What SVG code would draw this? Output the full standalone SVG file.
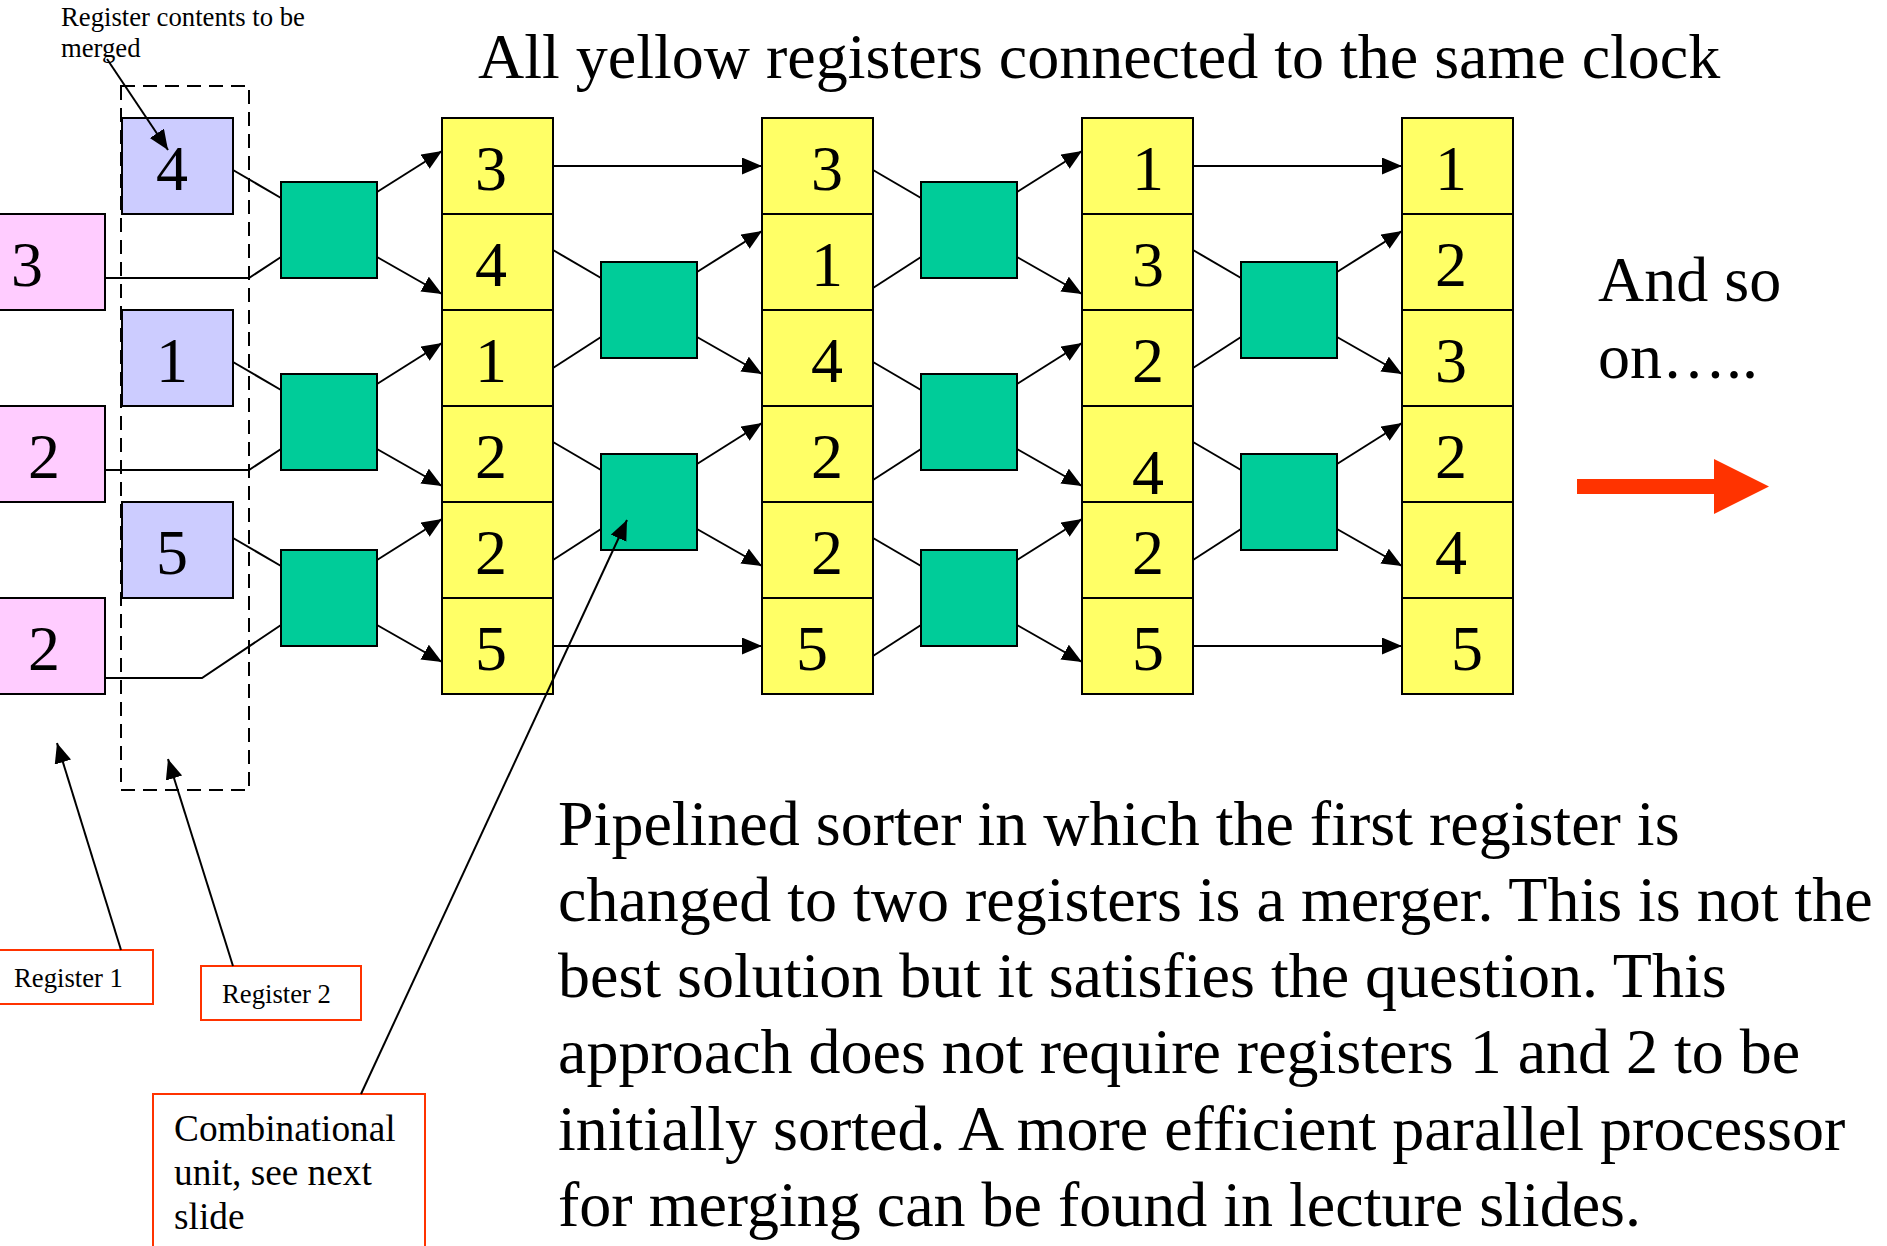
<svg xmlns="http://www.w3.org/2000/svg" width="1887" height="1246" viewBox="0 0 1887 1246">
<style>
text{font-family:"Liberation Serif","Times New Roman",serif;fill:#000}
.big{font-size:64px}
.dig{font-size:64px;text-anchor:middle}
.small{font-size:26.7px}
.mid{font-size:37.3px}
.yel{fill:#FFFF66;stroke:#000;stroke-width:2}
.grn{fill:#00CC99;stroke:#000;stroke-width:2}
.blu{fill:#CCCCFF;stroke:#000;stroke-width:2}
.pnk{fill:#FFCCFF;stroke:#000;stroke-width:2}
.call{fill:#fff;stroke:#FF3300;stroke-width:2}
.w{fill:none;stroke:#000;stroke-width:2}
.a{fill:none;stroke:#000;stroke-width:2;marker-end:url(#ah)}
</style>
<defs>
<marker id="ah" markerUnits="userSpaceOnUse" markerWidth="22" markerHeight="18" refX="20" refY="8.5" orient="auto">
<path d="M0,0 L20,8.5 L0,17 z" fill="#000"/>
</marker>
</defs>
<rect width="1887" height="1246" fill="#fff"/>

<text class="big" x="478" y="78">All yellow registers connected to the same clock</text>

<rect id="merge-group" x="121" y="86" width="128" height="704" fill="none" stroke="#000" stroke-width="2" stroke-dasharray="14 8"/>

<g id="reg2-a"><rect class="blu" x="122" y="118" width="111" height="96"/><text class="dig" x="172" y="190">4</text></g>
<g id="reg2-b"><rect class="blu" x="122" y="310" width="111" height="96"/><text class="dig" x="172" y="382">1</text></g>
<g id="reg2-c"><rect class="blu" x="122" y="502" width="111" height="96"/><text class="dig" x="172" y="574">5</text></g>

<g id="reg1-a"><rect class="pnk" x="-2" y="214" width="107" height="96"/><text class="dig" x="27" y="286">3</text></g>
<g id="reg1-b"><rect class="pnk" x="-2" y="406" width="107" height="96"/><text class="dig" x="44" y="478">2</text></g>
<g id="reg1-c"><rect class="pnk" x="-2" y="598" width="107" height="96"/><text class="dig" x="44" y="670">2</text></g>

<g id="comb-1a"><rect class="grn" x="281" y="182" width="96" height="96"/></g>
<g id="comb-1b"><rect class="grn" x="281" y="374" width="96" height="96"/></g>
<g id="comb-1c"><rect class="grn" x="281" y="550" width="96" height="96"/></g>
<g id="comb-2a"><rect class="grn" x="601" y="262" width="96" height="96"/></g>
<g id="comb-2b"><rect class="grn" x="601" y="454" width="96" height="96"/></g>
<g id="comb-3a"><rect class="grn" x="921" y="182" width="96" height="96"/></g>
<g id="comb-3b"><rect class="grn" x="921" y="374" width="96" height="96"/></g>
<g id="comb-3c"><rect class="grn" x="921" y="550" width="96" height="96"/></g>
<g id="comb-4a"><rect class="grn" x="1241" y="262" width="96" height="96"/></g>
<g id="comb-4b"><rect class="grn" x="1241" y="454" width="96" height="96"/></g>

<g id="yellow-1">
<rect class="yel" x="442" y="118" width="111" height="96"/>
<rect class="yel" x="442" y="214" width="111" height="96"/>
<rect class="yel" x="442" y="310" width="111" height="96"/>
<rect class="yel" x="442" y="406" width="111" height="96"/>
<rect class="yel" x="442" y="502" width="111" height="96"/>
<rect class="yel" x="442" y="598" width="111" height="96"/>
<text class="dig" x="491" y="190">3</text>
<text class="dig" x="491" y="286">4</text>
<text class="dig" x="491" y="382">1</text>
<text class="dig" x="491" y="478">2</text>
<text class="dig" x="491" y="574">2</text>
<text class="dig" x="491" y="670">5</text>
</g>
<g id="yellow-2">
<rect class="yel" x="762" y="118" width="111" height="96"/>
<rect class="yel" x="762" y="214" width="111" height="96"/>
<rect class="yel" x="762" y="310" width="111" height="96"/>
<rect class="yel" x="762" y="406" width="111" height="96"/>
<rect class="yel" x="762" y="502" width="111" height="96"/>
<rect class="yel" x="762" y="598" width="111" height="96"/>
<text class="dig" x="827" y="190">3</text>
<text class="dig" x="827" y="286">1</text>
<text class="dig" x="827" y="382">4</text>
<text class="dig" x="827" y="478">2</text>
<text class="dig" x="827" y="574">2</text>
<text class="dig" x="812" y="670">5</text>
</g>
<g id="yellow-3">
<rect class="yel" x="1082" y="118" width="111" height="96"/>
<rect class="yel" x="1082" y="214" width="111" height="96"/>
<rect class="yel" x="1082" y="310" width="111" height="96"/>
<rect class="yel" x="1082" y="406" width="111" height="96"/>
<rect class="yel" x="1082" y="502" width="111" height="96"/>
<rect class="yel" x="1082" y="598" width="111" height="96"/>
<text class="dig" x="1148" y="190">1</text>
<text class="dig" x="1148" y="286">3</text>
<text class="dig" x="1148" y="382">2</text>
<text class="dig" x="1148" y="494">4</text>
<text class="dig" x="1148" y="574">2</text>
<text class="dig" x="1148" y="670">5</text>
</g>
<g id="yellow-4">
<rect class="yel" x="1402" y="118" width="111" height="96"/>
<rect class="yel" x="1402" y="214" width="111" height="96"/>
<rect class="yel" x="1402" y="310" width="111" height="96"/>
<rect class="yel" x="1402" y="406" width="111" height="96"/>
<rect class="yel" x="1402" y="502" width="111" height="96"/>
<rect class="yel" x="1402" y="598" width="111" height="96"/>
<text class="dig" x="1451" y="190">1</text>
<text class="dig" x="1451" y="286">2</text>
<text class="dig" x="1451" y="382">3</text>
<text class="dig" x="1451" y="478">2</text>
<text class="dig" x="1451" y="574">4</text>
<text class="dig" x="1467" y="670">5</text>
</g>

<g id="and-so-on">
<text class="big" x="1598" y="301">And so</text>
<text class="big" x="1598" y="378">on…..</text>
<polygon points="1577,479 1714,479 1714,459 1769,486.5 1714,514 1714,494 1577,494" fill="#FF3300"/>
</g>

<g id="note-merged">
<text class="small" x="61" y="26">Register contents to be</text>
<text class="small" x="61" y="57">merged</text>
</g>
<g id="note-reg1"><rect class="call" x="-2" y="950" width="155" height="54"/><text class="small" x="14" y="987">Register 1</text></g>
<g id="note-reg2"><rect class="call" x="201" y="966" width="160" height="54"/><text class="small" x="222" y="1003">Register 2</text></g>
<g id="note-comb"><rect class="call" x="153" y="1094" width="272" height="160"/>
<text class="mid" x="174" y="1141">Combinational</text>
<text class="mid" x="174" y="1185">unit, see next</text>
<text class="mid" x="174" y="1229">slide</text>
</g>

<g id="paragraph">
<text class="big" x="558" y="845">Pipelined sorter in which the first register is</text>
<text class="big" x="558" y="921">changed to two registers is a merger. This is not the</text>
<text class="big" x="558" y="997">best solution but it satisfies the question. This</text>
<text class="big" x="558" y="1073">approach does not require registers 1 and 2 to be</text>
<text class="big" x="558" y="1150">initially sorted. A more efficient parallel processor</text>
<text class="big" x="558" y="1226">for merging can be found in lecture slides.</text>
</g>

<g id="connectors">
<line class="w" x1="233" y1="170" x2="281" y2="198"/>
<polyline class="w" points="105,278 249,278 281,257"/>
<line class="a" x1="377" y1="192" x2="442" y2="151"/>
<line class="a" x1="377" y1="257" x2="442" y2="294"/>
<line class="w" x1="233" y1="362" x2="281" y2="390"/>
<polyline class="w" points="105,470 249,470 281,449"/>
<line class="a" x1="377" y1="384" x2="442" y2="343"/>
<line class="a" x1="377" y1="449" x2="442" y2="486"/>
<line class="w" x1="233" y1="538" x2="281" y2="566"/>
<polyline class="w" points="105,678 202,678 281,625"/>
<line class="a" x1="377" y1="560" x2="442" y2="519"/>
<line class="a" x1="377" y1="625" x2="442" y2="662"/>

<line class="a" x1="553" y1="166" x2="762" y2="166"/>
<line class="a" x1="553" y1="646" x2="762" y2="646"/>
<line class="w" x1="553" y1="250" x2="601" y2="278"/>
<line class="w" x1="553" y1="368" x2="601" y2="337"/>
<line class="a" x1="697" y1="272" x2="762" y2="231"/>
<line class="a" x1="697" y1="337" x2="762" y2="374"/>
<line class="w" x1="553" y1="442" x2="601" y2="470"/>
<line class="w" x1="553" y1="560" x2="601" y2="529"/>
<line class="a" x1="697" y1="464" x2="762" y2="423"/>
<line class="a" x1="697" y1="529" x2="762" y2="566"/>

<line class="w" x1="873" y1="170" x2="921" y2="198"/>
<line class="w" x1="873" y1="288" x2="921" y2="257"/>
<line class="a" x1="1017" y1="192" x2="1082" y2="151"/>
<line class="a" x1="1017" y1="257" x2="1082" y2="294"/>
<line class="w" x1="873" y1="362" x2="921" y2="390"/>
<line class="w" x1="873" y1="480" x2="921" y2="449"/>
<line class="a" x1="1017" y1="384" x2="1082" y2="343"/>
<line class="a" x1="1017" y1="449" x2="1082" y2="486"/>
<line class="w" x1="873" y1="538" x2="921" y2="566"/>
<line class="w" x1="873" y1="656" x2="921" y2="625"/>
<line class="a" x1="1017" y1="560" x2="1082" y2="519"/>
<line class="a" x1="1017" y1="625" x2="1082" y2="662"/>

<line class="a" x1="1193" y1="166" x2="1402" y2="166"/>
<line class="a" x1="1193" y1="646" x2="1402" y2="646"/>
<line class="w" x1="1193" y1="250" x2="1241" y2="278"/>
<line class="w" x1="1193" y1="368" x2="1241" y2="337"/>
<line class="a" x1="1337" y1="272" x2="1402" y2="231"/>
<line class="a" x1="1337" y1="337" x2="1402" y2="374"/>
<line class="w" x1="1193" y1="442" x2="1241" y2="470"/>
<line class="w" x1="1193" y1="560" x2="1241" y2="529"/>
<line class="a" x1="1337" y1="464" x2="1402" y2="423"/>
<line class="a" x1="1337" y1="529" x2="1402" y2="566"/>

<line class="a" x1="107" y1="59" x2="168" y2="150"/>
<line class="a" x1="121" y1="950" x2="57" y2="743"/>
<line class="a" x1="233" y1="966" x2="168" y2="759"/>
<line class="a" x1="361" y1="1094" x2="627" y2="520"/>
</g>
</svg>
